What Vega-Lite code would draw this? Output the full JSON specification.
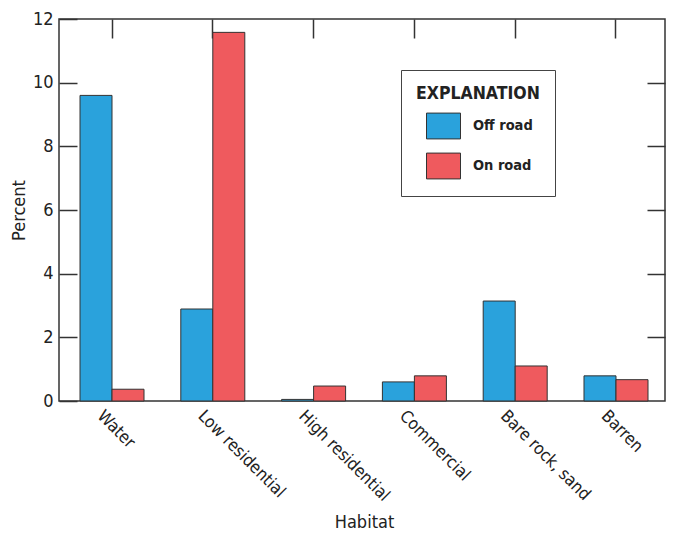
{
  "$schema": "https://vega.github.io/schema/vega-lite/v6.json",
  "width": 606,
  "height": 382,
  "autosize": {"type": "none"},
  "padding": {"left": 59, "top": 19, "right": 8, "bottom": 133},
  "background": "white",
  "config": {
    "font": "Liberation Sans Narrow, DejaVu Sans Condensed, Roboto Condensed, sans-serif",
    "view": {"stroke": "#333333", "strokeWidth": 1.5},
    "axis": {"domain": false, "grid": false, "tickColor": "#333333", "tickWidth": 1.5, "labelColor": "#222222", "titleColor": "#222222", "labelFont": "Liberation Sans Narrow, DejaVu Sans Condensed, sans-serif", "titleFont": "Liberation Sans Narrow, DejaVu Sans Condensed, sans-serif", "titleFontWeight": "normal"}
  },
  "data": {
    "values": [
      {"Habitat": "Water", "Type": "Off road", "Percent": 9.6},
      {"Habitat": "Water", "Type": "On road", "Percent": 0.37},
      {"Habitat": "Low residential", "Type": "Off road", "Percent": 2.89},
      {"Habitat": "Low residential", "Type": "On road", "Percent": 11.58},
      {"Habitat": "High residential", "Type": "Off road", "Percent": 0.05},
      {"Habitat": "High residential", "Type": "On road", "Percent": 0.47},
      {"Habitat": "Commercial", "Type": "Off road", "Percent": 0.6},
      {"Habitat": "Commercial", "Type": "On road", "Percent": 0.79},
      {"Habitat": "Bare rock, sand", "Type": "Off road", "Percent": 3.14},
      {"Habitat": "Bare rock, sand", "Type": "On road", "Percent": 1.1},
      {"Habitat": "Barren", "Type": "Off road", "Percent": 0.79},
      {"Habitat": "Barren", "Type": "On road", "Percent": 0.67}
    ]
  },
  "layer": [
    {
      "mark": {"type": "bar", "stroke": "#333333", "strokeWidth": 1},
      "encoding": {
        "x": {
          "field": "Habitat", "type": "nominal", "sort": null,
          "scale": {"paddingInner": 0.365, "paddingOuter": 0, "range": [21, 589]},
          "axis": {"orient": "bottom", "title": "Habitat", "labelAngle": 45, "labelAlign": "left", "labelBaseline": "middle", "labelFontSize": 17, "ticks": false, "labelPadding": 12, "labelOffset": -12, "titleFontSize": 18, "titlePadding": 10}
        },
        "xOffset": {"field": "Type", "type": "nominal", "scale": {"paddingInner": 0, "paddingOuter": 0}},
        "y": {
          "field": "Percent", "type": "quantitative",
          "scale": {"domain": [0, 12], "nice": false},
          "axis": {"orient": "left", "title": "Percent", "values": [0, 2, 4, 6, 8, 10, 12], "tickSize": -18, "labelPadding": 24, "labelFontSize": 18, "titleFontSize": 18, "titlePadding": 4}
        },
        "color": {
          "field": "Type", "type": "nominal",
          "scale": {"domain": ["Off road", "On road"], "range": ["#2aa2dc", "#ef5a5e"]},
          "legend": {
            "orient": "none", "legendX": 342, "legendY": 51,
            "title": "EXPLANATION", "titleFontSize": 17.5, "titleFontWeight": "bold", "titleColor": "#222222", "titlePadding": 6,
            "labelFontSize": 14.5, "labelFontWeight": "bold", "labelColor": "#222222", "labelOffset": 12,
            "symbolType": "M-1,-0.76H1V0.76H-1Z", "symbolSize": 1156, "symbolStrokeColor": "#333333", "symbolStrokeWidth": 1, "symbolOffset": 10,
            "rowPadding": 7,
            "padding": 15, "strokeColor": "#444444", "fillColor": "white"
          }
        }
      }
    },
    {
      "mark": {"type": "bar", "opacity": 0},
      "encoding": {
        "x": {"field": "Habitat", "type": "nominal", "sort": null, "axis": {"orient": "top", "title": null, "labels": false, "tickSize": -19}},
        "y": {"field": "Percent", "type": "quantitative", "axis": {"orient": "right", "title": null, "labels": false, "values": [2, 4, 6, 8, 10], "tickSize": -18}}
      }
    }
  ],
  "resolve": {"axis": {"x": "independent", "y": "independent"}}
}
